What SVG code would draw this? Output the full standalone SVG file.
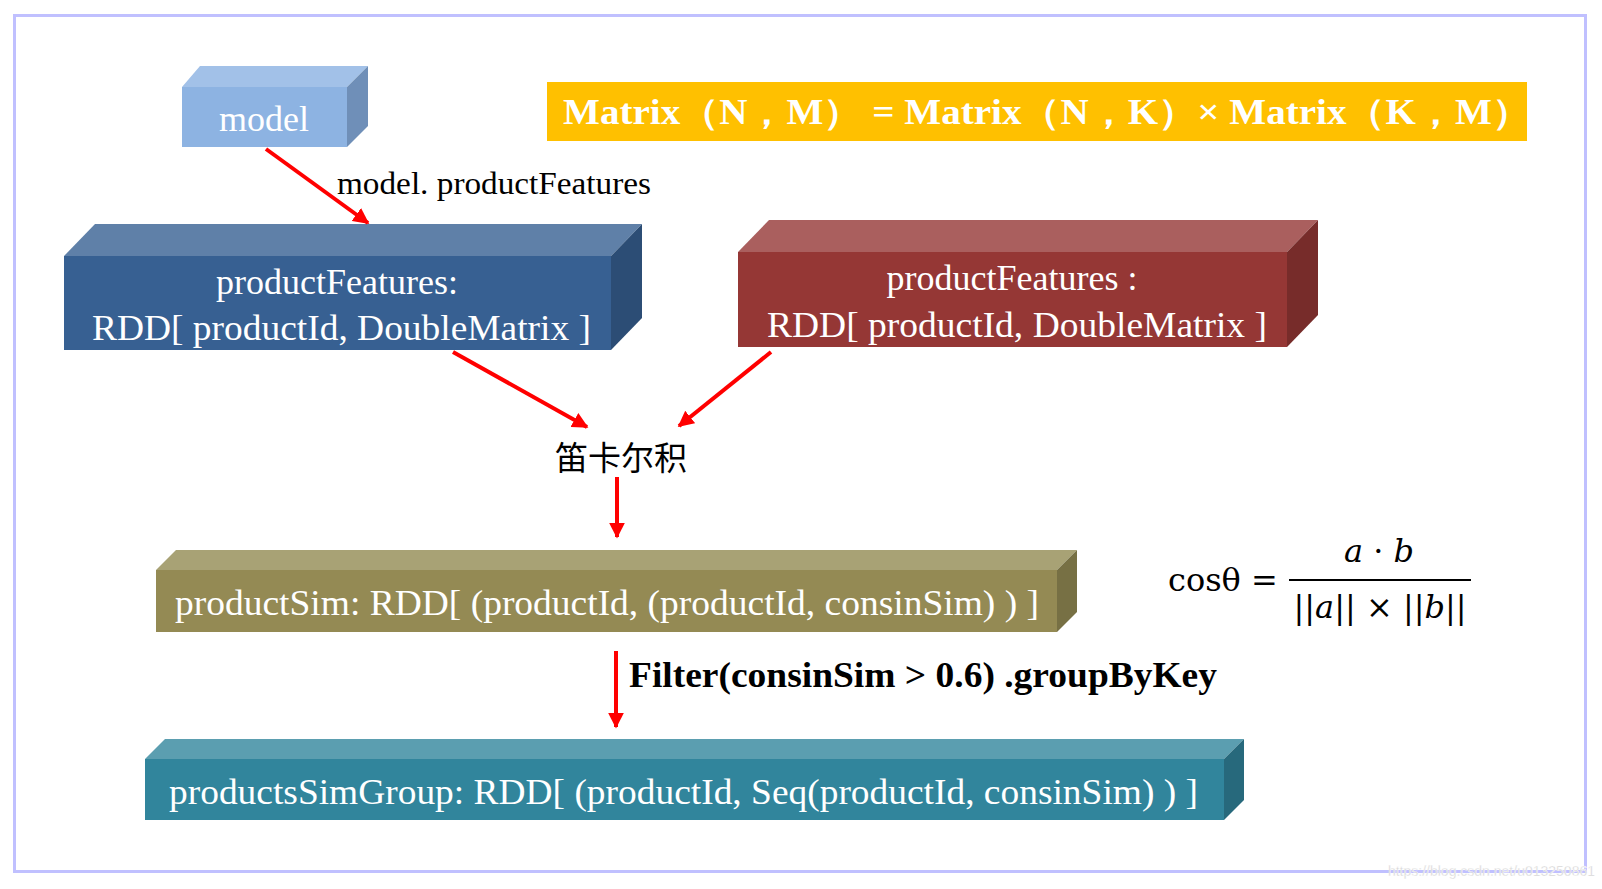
<svg xmlns="http://www.w3.org/2000/svg" width="1602" height="889" viewBox="0 0 1602 889">
<style>
.t{font-family:"Liberation Serif","Times New Roman",serif;fill:#fff}
.b{font-family:"Liberation Serif","Times New Roman",serif;fill:#000}
.conn{stroke:#ff0000;stroke-width:4;fill:none}
.m{font-family:"DejaVu Serif","Liberation Serif",serif;fill:#000}
</style>
<defs>
<marker id="ah" viewBox="0 0 10 10" refX="9" refY="5" markerWidth="4" markerHeight="4" orient="auto" markerUnits="strokeWidth">
<path d="M0,0 L10,5 L0,10 z" fill="#ff0000"/>
</marker>
</defs>
<rect x="0" y="0" width="1602" height="889" fill="#fff"/>
<rect x="14.5" y="15.5" width="1571" height="856" fill="none" stroke="#c0c0ff" stroke-width="3"/>

<g id="banner">
<rect x="547" y="82" width="980" height="59" fill="#ffc000"/>
<text class="t" x="563" y="124" font-size="35" font-weight="bold" textLength="968" lengthAdjust="spacingAndGlyphs">Matrix（N，M） = Matrix（N，K）× Matrix（K，M）</text>
</g>

<g id="model">
<polygon points="182,87 200,66 368,66 347,87" fill="#a2c1e8"/>
<polygon points="347,87 368,66 368,126 347,147" fill="#6f8fb8"/>
<rect x="182" y="87" width="165" height="60" fill="#8db3e2"/>
<text class="t" x="264" y="131" font-size="36" text-anchor="middle">model</text>
</g>

<g id="productFeatures1">
<polygon points="64,256 95,224 642,224 611,256" fill="#5f80a8"/>
<polygon points="611,256 642,224 642,318 611,350" fill="#2c4d75"/>
<rect x="64" y="256" width="547" height="94" fill="#376092"/>
<text class="t" x="337" y="294" font-size="36" text-anchor="middle">productFeatures:</text>
<text class="t" x="92" y="340" font-size="36" textLength="499" lengthAdjust="spacingAndGlyphs">RDD[ productId, DoubleMatrix ]</text>
</g>

<g id="productFeatures2">
<polygon points="738,252 769,220 1318,220 1287,252" fill="#aa5f5e"/>
<polygon points="1287,252 1318,220 1318,315 1287,347" fill="#772c2a"/>
<rect x="738" y="252" width="549" height="95" fill="#953735"/>
<text class="t" x="1012" y="290" font-size="36" text-anchor="middle">productFeatures :</text>
<text class="t" x="767" y="337" font-size="36" textLength="500" lengthAdjust="spacingAndGlyphs">RDD[ productId, DoubleMatrix ]</text>
</g>

<g id="cartesian">
<text x="621" y="470" font-size="33" text-anchor="middle" font-family="'Noto Sans CJK SC',sans-serif" fill="#000">笛卡尔积</text>
</g>

<g id="productSim">
<polygon points="156,570 176,550 1077,550 1057,570" fill="#a8a275"/>
<polygon points="1057,570 1077,550 1077,612 1057,632" fill="#777044"/>
<rect x="156" y="570" width="901" height="62" fill="#948a54"/>
<text class="t" x="175" y="615" font-size="36" textLength="864" lengthAdjust="spacingAndGlyphs">productSim: RDD[ (productId, (productId, consinSim) ) ]</text>
</g>

<g id="productsSimGroup">
<polygon points="145,759 165,739 1244,739 1224,759" fill="#5b9eb0"/>
<polygon points="1224,759 1244,739 1244,800 1224,820" fill="#27697c"/>
<rect x="145" y="759" width="1079" height="61" fill="#31859c"/>
<text class="t" x="169" y="804" font-size="36" textLength="1029" lengthAdjust="spacingAndGlyphs">productsSimGroup: RDD[ (productId, Seq(productId, consinSim) ) ]</text>
</g>

<g id="formula">
<text class="m" x="1168" y="591" font-size="32">cosθ =</text>
<line x1="1289" y1="580" x2="1471" y2="580" stroke="#000" stroke-width="2"/>
<text class="m" x="1379" y="562" font-size="32" text-anchor="middle"><tspan font-style="italic">a</tspan> · <tspan font-style="italic">b</tspan></text>
<text class="m" x="1380" y="618" font-size="32" text-anchor="middle">||<tspan font-style="italic">a</tspan>|| × ||<tspan font-style="italic">b</tspan>||</text>
</g>

<g id="connectors">
<line class="conn" x1="266" y1="149" x2="368" y2="223" marker-end="url(#ah)"/>
<line class="conn" x1="453" y1="352" x2="587" y2="427" marker-end="url(#ah)"/>
<line class="conn" x1="771" y1="352" x2="679" y2="426" marker-end="url(#ah)"/>
<line class="conn" x1="617" y1="477" x2="617" y2="537" marker-end="url(#ah)"/>
<line class="conn" x1="616" y1="651" x2="616" y2="727" marker-end="url(#ah)"/>
<text class="b" x="337" y="194" font-size="31" textLength="314" lengthAdjust="spacingAndGlyphs">model. productFeatures</text>
<text class="b" x="629" y="687" font-size="35" font-weight="bold" textLength="588" lengthAdjust="spacingAndGlyphs">Filter(consinSim &gt; 0.6) .groupByKey</text>
</g>

<text x="1595" y="876" font-size="14" text-anchor="end" font-family="'Liberation Sans',sans-serif" fill="#d0d0d0" stroke="#ffffff" stroke-width="0.4">https://blog.csdn.net/u013250861</text>
</svg>
